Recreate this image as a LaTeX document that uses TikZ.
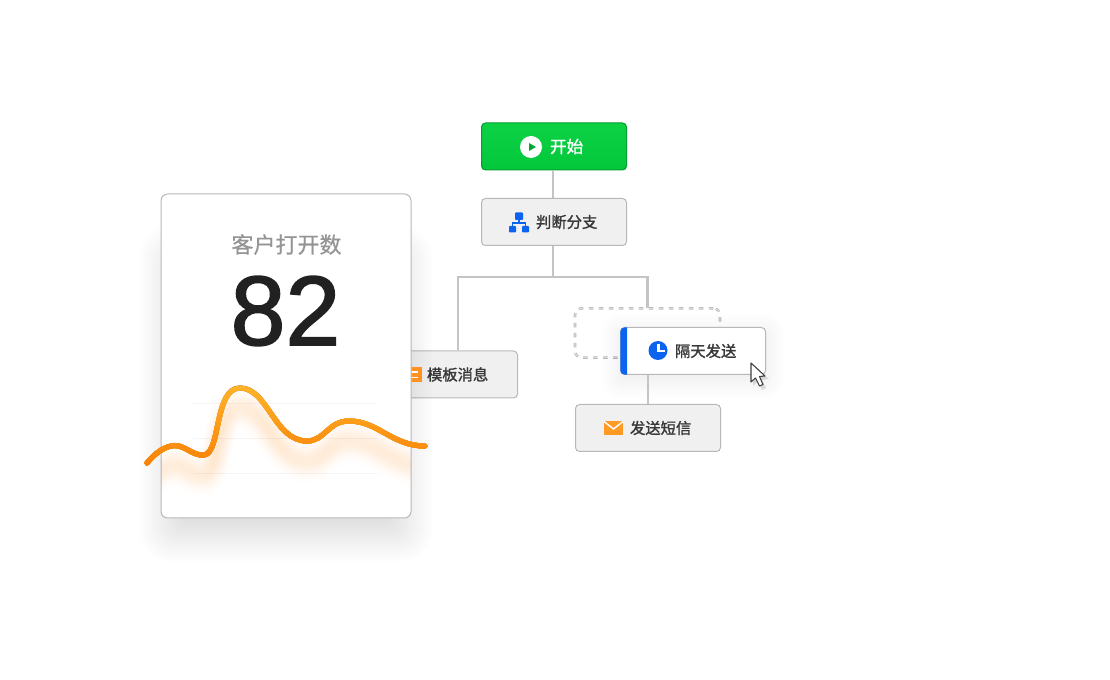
\documentclass[tikz,border=0pt]{standalone}
\usepackage{fontspec}
\setmainfont{Noto Sans CJK SC}
\newfontfamily\labelfont[FakeBold=1.4]{Noto Sans CJK SC}
\newfontfamily\titlefont[FakeBold=0.6]{Noto Sans CJK SC}
\newfontfamily\numfont[FakeBold=1.6]{Liberation Sans}
\usetikzlibrary{positioning}
\usetikzlibrary{calc}
\definecolor{boxline}{HTML}{B8B8B8}
\definecolor{boxfill}{HTML}{F0F0F0}
\definecolor{flowblue}{HTML}{0B63F0}
\definecolor{flowgreen}{HTML}{04D03E}
\definecolor{floworange}{HTML}{FF9A24}
\definecolor{curvetop}{HTML}{FFB428}
\definecolor{curvelow}{HTML}{F88208}
\tikzset{
  flowbox/.style = {draw=boxline, fill=boxfill, line width=0.75pt, rounded corners=3pt,
      minimum width=108.75pt, minimum height=35.25pt, inner sep=0pt,
      font=\fontsize{11.5pt}{12pt}\labelfont, text=black!78},
  flowline/.style = {draw=black!23, line width=1.7pt},
  gridline/.style = {draw=black!4, line width=0.6pt},
}
\newcommand{\curvepath}{(147,463) .. controls (157,451) and (166,446) .. (175,445.5)
  .. controls (186,446) and (193,456) .. (204,455)
  .. controls (221,453) and (214,388) .. (240,388)
  .. controls (268,388) and (274,441) .. (307,441)
  .. controls (325,441) and (328,421) .. (349,421)
  .. controls (378,421) and (392,446) .. (425,446)}
\newcommand{\iconshift}{\hspace*{19pt}}
\begin{document}
\begin{tikzpicture}[x=0.75pt,y=-0.75pt]
      \useasboundingbox (0,0) rectangle (1110,680);

      \node[flowbox, draw=black!25!flowgreen, top color=flowgreen!97!white, bottom color=flowgreen!96!black, text=white, font=\fontsize{12.5pt}{13pt}\labelfont] (start) at (554,146.5) {\iconshift 开始};
      \node[flowbox] (judge) at (554,222) {\iconshift 判断分支};
      \node[flowbox] (template) at (445,374.5) {\iconshift 模板消息};
      \node[flowbox, draw=black!28, double=black!8, double distance=0.5pt, fill=none, dash pattern=on 3.4pt off 4.1pt, line width=0.7pt, rounded corners=5pt, minimum height=37pt] (slot) at (647.5,333) {};
      \node[flowbox] (sms) at (648,428) {\iconshift 发送短信};
      \coordinate (branch) at (553,277);

      \draw[flowline] (start.south -| branch) -- (judge.north -| branch);
      \draw[flowline] (judge.south -| branch) -- (branch);
      \draw[flowline] (branch) -| ([xshift=9.75pt]template.north);
      \draw[flowline] (branch) -| (slot.north);

      % drag shadow
      \foreach \g in {0,...,16}
        \fill[black, opacity=0.005, rounded corners=\g*0.75pt+1pt]
          (628-1.6*\g,340-1.6*\g) rectangle (758+1.6*\g,372+1.6*\g);
      \node[flowbox, fill=white] (delay) at (693,351) {\iconshift 隔天发送};
      \draw[flowline] (delay.south -| sms.north) -- (sms.north);
      \begin{scope}
        \clip (620,327) rectangle (627,375);
        \fill[flowblue, rounded corners=3pt] (620.4,327.4) rectangle (640,374.6);
      \end{scope}

      % icons
      \fill[white] (531,147) circle (11);
      \fill[flowgreen!80!black] (529,143) -- (536,147) -- (529,151) -- cycle;
      \fill[flowblue, rounded corners=0.6pt] (515,212.5) rectangle (523,220);
      \fill[flowblue, rounded corners=0.6pt] (509,226) rectangle (516,232.5);
      \fill[flowblue, rounded corners=0.6pt] (522,226) rectangle (529,232.5);
      \draw[flowblue, line width=1pt] (519,220) -- (519,223) (512.5,226) -- (512.5,223) -- (525.5,223) -- (525.5,226);
      \fill[flowblue] (658,350.5) circle (9.5);
      \draw[white, line width=1.6pt] (658.5,344) -- (658.5,351) -- (664.5,351);
      \fill[floworange] (604,421) rectangle (623,435);
      \draw[white, line width=1.1pt] (604,421.5) -- (613.5,429) -- (623,421.5);

      % card
      \foreach \g in {0,...,30}
        \fill[black, opacity=0.0035, rounded corners=\g*0.75pt+2pt]
          (184-1.5*\g,270-1.5*\g) rectangle (388+1.5*\g,520+1.4*\g);
      \fill[floworange!95!red] (401,367.5) rectangle (422,382);
      \draw[white, line width=1.3pt] (405,372) -- (418,372) (405,377.5) -- (418,377.5);
      \node[draw=boxline, fill=white, line width=0.75pt, rounded corners=5pt, minimum width=187.5pt, minimum height=243pt, inner sep=0pt] (card) at (286,356) {};
      \node[text=black!42, font=\fontsize{16.5pt}{18pt}\titlefont] (cardtitle) at (286.5,244.5) {客户打开数};
      \node[text=black!87, font=\fontsize{74pt}{76pt}\numfont, inner sep=0pt] (cardvalue) at (285.5,311) {82};
      \foreach \y in {403,438,473}
        \draw[gridline] (193,\y) -- (377,\y);
      \begin{scope}
        \clip[rounded corners=5pt] (161.5,194.5) rectangle (410.5,517.5);
        \foreach \s in {12,16,...,28}
          \foreach \w in {4,10,...,28}
            \draw[floworange, opacity=0.0065, line width=\w*0.75pt, yshift=-\s*0.75pt] \curvepath;
      \end{scope}
      \draw[black!32!curvelow, line width=4pt, line cap=round] \curvepath;
      \foreach \p in {0,5,...,100} {
        \begin{scope}
          \clip (120,384+0.8*\p) rectangle (450,480);
          \draw[curvelow!\p!curvetop, line width=3.6pt, line cap=round] \curvepath;
        \end{scope}
      }

      % cursor
      \fill[black, opacity=0.12] (753,366) -- (753,386) -- (758,381) -- (762,390) -- (766,388) -- (762,380) -- (769,379) -- cycle;
      \draw[black!75, fill=white, line width=0.8pt, line join=round] (751,363) -- (751,382) -- (755.5,378) -- (759.5,386) -- (763,384.5) -- (759.5,376.5) -- (765,376) -- cycle;

    \end{tikzpicture}
\end{document}
